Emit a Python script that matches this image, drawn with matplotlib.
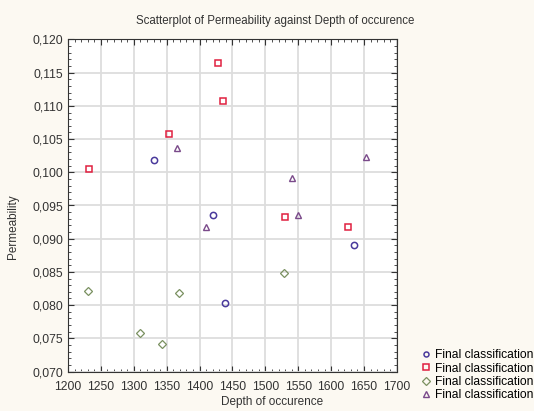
import matplotlib.pyplot as plt
from matplotlib.ticker import FuncFormatter, MultipleLocator

plt.rcParams['font.family'] = ['Liberation Sans', 'DejaVu Sans']

# depth / permeability per final classification
depth_1 = [1331, 1421, 1439, 1634]
perm_1 = [0.1019, 0.0935, 0.0803, 0.0890]
depth_2 = [1428, 1435, 1354, 1232, 1530, 1625]
perm_2 = [0.1164, 0.1107, 0.1058, 0.1005, 0.0932, 0.0917]
depth_3 = [1231, 1368, 1310, 1343, 1528]
perm_3 = [0.0821, 0.0818, 0.0758, 0.0742, 0.0849]
depth_4 = [1365, 1410, 1653, 1540, 1549]
perm_4 = [0.1037, 0.0917, 0.1023, 0.0992, 0.0935]

labels = ['Final classification: 1', 'Final classification: 2',
          'Final classification: 3', 'Final classification: 4']

fig = plt.figure(figsize=(5.34, 4.11), dpi=100, facecolor='#fcf9f2')
ax = fig.add_axes([0.1273, 0.0961, 0.6161, 0.8078])
ax.set_facecolor('white')

ax.plot(depth_1, perm_1, 'o', mfc='none', mec='#4a3a9c', ms=4.5, mew=1.1, label=labels[0])
ax.plot(depth_2, perm_2, 's', mfc='none', mec='#e02040', ms=5, mew=1.1, label=labels[1])
ax.plot(depth_3, perm_3, 'D', mfc='none', mec='#7a9060', ms=4.5, mew=0.9, label=labels[2])
ax.plot(depth_4, perm_4, '^', mfc='none', mec='#7a4a8a', ms=5, mew=1.0, label=labels[3])

ax.set_xlim(1200, 1700)
ax.set_ylim(0.070, 0.120)
ax.xaxis.set_major_locator(MultipleLocator(50))
ax.yaxis.set_major_locator(MultipleLocator(0.005))
ax.xaxis.set_minor_locator(MultipleLocator(10))
ax.yaxis.set_minor_locator(MultipleLocator(0.001))
ax.yaxis.set_major_formatter(FuncFormatter(lambda v, p: f'{v:.3f}'.replace('.', ',')))
ax.tick_params(which='both', direction='in', top=True, right=True, labelsize=8.7, colors='#333333')
ax.tick_params(which='major', length=4)
ax.tick_params(which='minor', length=2)
ax.tick_params(axis='x', which='major', pad=7)
ax.grid(True, color='#dddddd', lw=1.3)
ax.set_axisbelow(True)
for s in ax.spines.values():
    s.set_color('#333333')

fig.text(0.515, 0.95, 'Scatterplot of Permeability against Depth of occurence',
         ha='center', va='center', fontsize=8.3, color='#333333')
ax.set_xlabel('Depth of occurence', fontsize=8.5, color='#333333')
ax.xaxis.set_label_coords(0.62, -0.075)
ax.set_ylabel('Permeability', fontsize=8.5, color='#333333')
ax.yaxis.set_label_coords(-0.15, 0.435)

ax.legend(loc='upper left', bbox_to_anchor=(1.05, 0.085), frameon=False, fontsize=8.7,
          handletextpad=0.3, labelspacing=0.1, handlelength=1, borderpad=0, markerscale=0.8)

fig.savefig('out.png', dpi=100, facecolor=fig.get_facecolor())
